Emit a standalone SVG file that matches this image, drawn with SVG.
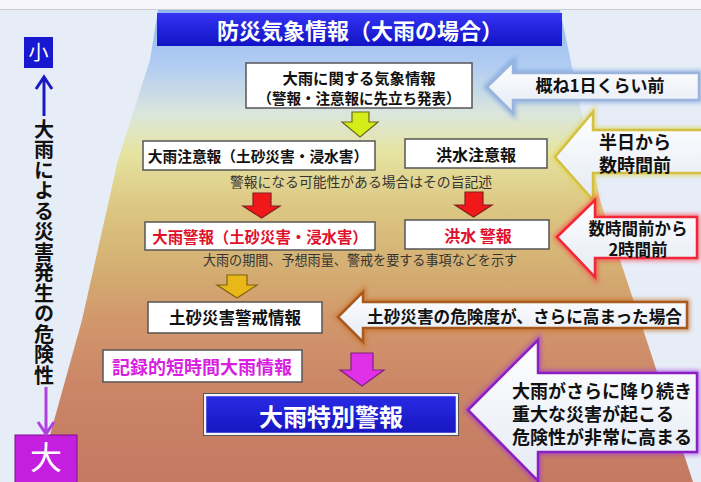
<svg xmlns="http://www.w3.org/2000/svg" width="701" height="482" viewBox="0 0 701 482">
<defs>
<linearGradient id="trap" gradientUnits="userSpaceOnUse" x1="0" y1="10" x2="0" y2="482">
<stop offset="0" stop-color="#8fb6ee"/>
<stop offset="0.12" stop-color="#b2cdf2"/>
<stop offset="0.22" stop-color="#dbe6dc"/>
<stop offset="0.3" stop-color="#e6e4a2"/>
<stop offset="0.42" stop-color="#dcc682"/>
<stop offset="0.55" stop-color="#d4ae72"/>
<stop offset="0.65" stop-color="#d2986c"/>
<stop offset="0.8" stop-color="#cb8567"/>
<stop offset="1" stop-color="#c47a62"/>
</linearGradient>
<linearGradient id="title" x1="0" y1="0" x2="0" y2="1">
<stop offset="0" stop-color="#3434f4"/>
<stop offset="1" stop-color="#1212c4"/>
</linearGradient>
<linearGradient id="arrowFill" x1="0" y1="0" x2="0" y2="1">
<stop offset="0" stop-color="#ffffff"/>
<stop offset="1" stop-color="#e4eaf4"/>
</linearGradient>
<linearGradient id="blueBox" x1="0" y1="0" x2="0" y2="1">
<stop offset="0" stop-color="#2a2ae6"/>
<stop offset="1" stop-color="#1616c0"/>
</linearGradient>
<filter id="glow" x="-20%" y="-20%" width="140%" height="140%">
<feGaussianBlur stdDeviation="2"/>
</filter>
<style>
.t{font-family:"Noto Sans CJK JP","Noto Sans CJK SC",sans-serif;font-weight:700;text-anchor:middle}
.n{font-family:"Noto Sans CJK JP","Noto Sans CJK SC",sans-serif;font-weight:400;text-anchor:middle;fill:#333}
.box{fill:#ffffff;stroke:#555555;stroke-width:1.5}
.la{fill:url(#arrowFill);stroke-width:2.5}
.glw{fill:none;stroke-width:6;opacity:0.6}
.dn{stroke-width:1.2}
.v{font-family:"Noto Sans CJK JP","Noto Sans CJK SC",sans-serif;font-weight:700;writing-mode:vertical-rl;text-orientation:upright}
</style>
</defs>

<!-- background -->
<rect x="0" y="0" width="701" height="482" fill="#e6edf7"/>
<rect x="0" y="0" width="701" height="9" fill="#f6f6f8"/>
<line x1="0" y1="9.5" x2="701" y2="9.5" stroke="#c8ccd4" stroke-width="1"/>

<!-- trapezoid -->
<path d="M158,10 L560,10 L600,200 L640,320 L693,482 L40,482 L50,435 L82,320 L118,160 L150,60 Z" fill="url(#trap)"/>

<!-- title -->
<g id="title">
<rect x="157" y="13" width="405" height="33" fill="url(#title)"/>
<text class="t" x="360" y="39" font-size="22" fill="#ffffff">防災気象情報（大雨の場合）</text>
</g>

<!-- left scale -->
<g id="scale-small">
<rect x="24" y="37" width="29" height="31" fill="#1818d0"/>
<text class="n" x="38.5" y="60" font-size="20" style="fill:#ffffff">小</text>
</g>
<g id="scale-label">
<text class="v" x="44" y="119" font-size="20" letter-spacing="0.5" fill="#111">大雨による災害発生の危険性</text>
</g>
<g id="scale-large">
<rect x="15" y="435" width="62" height="50" fill="#c41ee0" stroke="#7a1090" stroke-width="1"/>
<text class="n" x="46" y="469" font-size="32" style="fill:#ffffff">大</text>
</g>

<!-- connectors -->
<g id="connectors">
<!-- scale arrows -->
<path d="M44,116 L44,78 M36,89 L44,77 L52,89" fill="none" stroke="#1a1ac0" stroke-width="3"/>
<path d="M46,387 L46,433 M38,422 L46,434 L54,422" fill="none" stroke="#b040e0" stroke-width="3"/>
<!-- down arrows -->
<path class="dn" d="M352,112 L369,112 L369,122 L378,122 L360,137 L342,122 L352,122 Z" fill="#d4ec18" stroke="#6a6a20"/>
<path class="dn" d="M253,193 L271,193 L271,206 L280,206 L261.5,218 L243,206 L253,206 Z" fill="#f01818" stroke="#802020"/>
<path class="dn" d="M465,192 L483,192 L483,205 L492,205 L473.5,217 L455,205 L465,205 Z" fill="#f01818" stroke="#802020"/>
<path class="dn" d="M227,275 L247,275 L247,285 L257,285 L237,298 L217,285 L227,285 Z" fill="#e8b818" stroke="#806010"/>
<path class="dn" d="M351,353 L373,353 L373,370 L384,370 L362,386 L340,370 L351,370 Z" fill="#e030e8" stroke="#802080"/>
</g>

<!-- main boxes -->
<g id="n-info">
<rect class="box" x="246" y="63" width="226" height="45"/>
<text class="t" fill="#111"><tspan x="359" y="83.5" font-size="15.3">大雨に関する気象情報</tspan><tspan x="359" y="103.5" font-size="14.5">（警報・注意報に先立ち発表）</tspan></text>
</g>
<g id="n-advisory">
<rect class="box" x="143" y="141" width="232" height="29"/>
<text class="t" x="258" y="162" font-size="14.7" fill="#111">大雨注意報（土砂災害・浸水害）</text>
</g>
<g id="n-flood-advisory">
<rect class="box" x="405" y="139" width="142" height="29"/>
<text class="t" x="476" y="161" font-size="16" fill="#111">洪水注意報</text>
</g>
<text class="n" x="361" y="187" font-size="13.8">警報になる可能性がある場合はその旨記述</text>
<g id="n-warning">
<rect class="box" x="145" y="222" width="230" height="28"/>
<text class="t" x="260" y="243" font-size="15.4" fill="#e0102c">大雨警報（土砂災害・浸水害）</text>
</g>
<g id="n-flood-warning">
<rect class="box" x="405" y="220" width="144" height="29"/>
<text class="t" x="478" y="242" font-size="16" fill="#e0102c">洪水 警報</text>
</g>
<text class="n" x="360" y="265" font-size="13.1">大雨の期間、予想雨量、警戒を要する事項などを示す</text>
<g id="n-landslide">
<rect class="box" x="148" y="302" width="174" height="31"/>
<text class="t" x="235" y="323.5" font-size="16.5" fill="#111">土砂災害警戒情報</text>
</g>
<g id="n-record">
<rect class="box" x="103" y="350" width="199" height="32"/>
<text class="t" x="202" y="373.5" font-size="18" fill="#d81ee0">記録的短時間大雨情報</text>
</g>
<g id="n-special">
<rect x="205" y="395" width="252" height="39" fill="url(#blueBox)" stroke="#f4f4f8" stroke-width="2.5"/>
<rect x="203.5" y="393.5" width="255" height="42" fill="none" stroke="#555" stroke-width="1"/>
<text class="t" x="331" y="425.5" font-size="24" fill="#ffffff">大雨特別警報</text>
</g>

<!-- right side arrows -->
<g id="a-day">
<path class="glw" d="M487,87 L513,62 L513,73 L699,73 L699,100 L513,100 L513,113 Z" stroke="#6a98e0" filter="url(#glow)"/>
<path class="la" d="M487,87 L513,62 L513,73 L699,73 L699,100 L513,100 L513,113 Z" stroke="#9ab4dc"/>
<text class="t" x="600" y="92" font-size="17" fill="#111">概ね1日くらい前</text>
</g>
<g id="a-halfday">
<path class="glw" d="M555,157 L593,112 L593,130 L705,130 L705,173 L593,173 L593,200 Z" stroke="#e0d040" filter="url(#glow)"/>
<path class="la" d="M555,157 L593,112 L593,130 L705,130 L705,173 L593,173 L593,200 Z" stroke="#d4c040"/>
<text class="t" font-size="18" fill="#111"><tspan x="635" y="148.5">半日から</tspan><tspan x="635" y="171.5">数時間前</tspan></text>
</g>
<g id="a-hours">
<path class="glw" d="M557,237 L595,200 L595,217 L697,217 L697,258 L595,258 L595,277 Z" stroke="#ff3040" filter="url(#glow)"/>
<path class="la" d="M557,237 L595,200 L595,217 L697,217 L697,258 L595,258 L595,277 Z" stroke="#f02838"/>
<text class="t" font-size="16.5" fill="#111"><tspan x="638" y="234.5">数時間前から</tspan><tspan x="638" y="255.6">2時間前</tspan></text>
</g>
<g id="a-landslide">
<path class="glw" d="M338,317 L363,292 L363,302 L687,302 L687,328 L363,328 L363,342 Z" stroke="#c86818" filter="url(#glow)"/>
<path class="la" d="M338,317 L363,292 L363,302 L687,302 L687,328 L363,328 L363,342 Z" stroke="#a85a20"/>
<text class="t" x="524.5" y="323" font-size="16.5" fill="#111" textLength="315" lengthAdjust="spacingAndGlyphs">土砂災害の危険度が、さらに高まった場合</text>
</g>
<g id="a-special">
<path class="glw" d="M468,410 L538,340 L538,373 L697,373 L697,452 L538,452 L538,481 Z" stroke="#a030e0" filter="url(#glow)"/>
<path class="la" d="M468,410 L538,340 L538,373 L697,373 L697,452 L538,452 L538,481 Z" stroke="#8a20c4"/>
<text class="t" font-size="18" fill="#111" style="text-anchor:start"><tspan x="512" y="397.5">大雨がさらに降り続き</tspan><tspan x="512" y="420.5">重大な災害が起こる</tspan><tspan x="512" y="443.5">危険性が非常に高まる</tspan></text>
</g>
</svg>
